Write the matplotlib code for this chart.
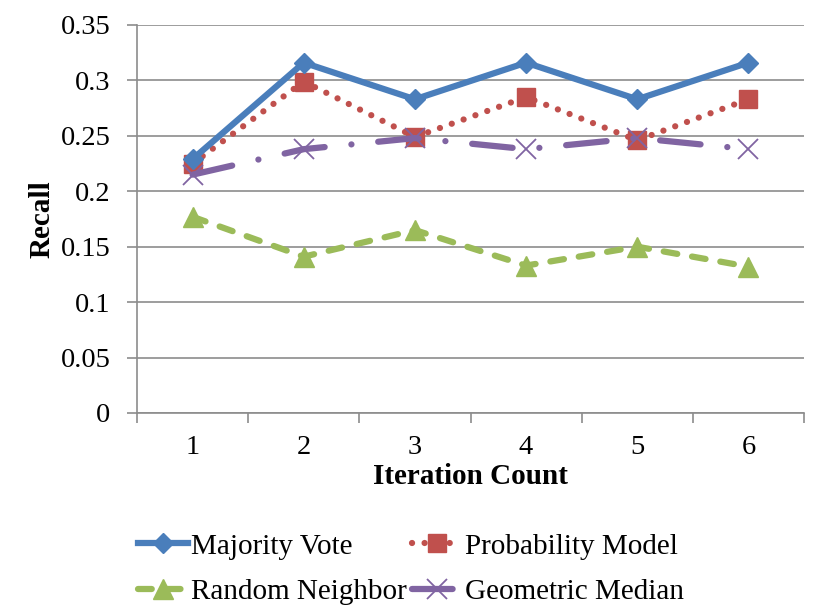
import matplotlib
matplotlib.use("Agg")
import matplotlib.pyplot as plt
from matplotlib.ticker import FixedLocator

plt.rcParams["font.family"] = ["Liberation Serif", "DejaVu Serif"]

iterations = ["1", "2", "3", "4", "5", "6"]
majority_vote = [0.229, 0.316, 0.283, 0.316, 0.283, 0.316]
probability_model = [0.225, 0.299, 0.249, 0.285, 0.246, 0.283]
random_neighbor = [0.177, 0.141, 0.165, 0.133, 0.150, 0.132]
geometric_median = [0.215, 0.238, 0.248, 0.238, 0.248, 0.238]
y_ticks = [0, 0.05, 0.1, 0.15, 0.2, 0.25, 0.3, 0.35]
y_labels = ["0", "0.05", "0.1", "0.15", "0.2", "0.25", "0.3", "0.35"]

fig = plt.figure(figsize=(8.22, 6.16), dpi=100)
ax = fig.add_axes([137 / 822, 1 - 413 / 616, (804 - 137) / 822, (413 - 25) / 616])

x = list(range(1, len(iterations) + 1))

l_mv, = ax.plot(x, majority_vote, color="#4A7EBB", lw=4.5, marker="D", ms=10,
                solid_joinstyle="miter", label="Majority Vote", zorder=4)
l_pm, = ax.plot(x, probability_model, color="#C0504D", lw=4.5, ls=(0, (0.01, 2.0)),
                dash_capstyle="round", marker="s", ms=13.5, label="Probability Model", zorder=3)
l_rn, = ax.plot(x, random_neighbor, color="#9BBB59", lw=4.5, ls=(0, (2.2, 2.4)),
                dash_capstyle="round", marker="^", ms=14, label="Random Neighbor", zorder=3)
l_gm, = ax.plot(x, geometric_median, color="#8064A2", lw=4.5, ls=(0, (6.5, 4.3, 0.01, 4.3)),
                dash_capstyle="round", marker="x", ms=14, mew=1.3, label="Geometric Median", zorder=5)

ax.set_xlim(0.5, 6.5)
ax.set_ylim(0, 0.35)
ax.set_yticks(y_ticks)
ax.set_yticklabels(y_labels)
ax.set_xticks(x)
ax.set_xticklabels(iterations)
ax.xaxis.set_minor_locator(FixedLocator([i + 0.5 for i in range(0, 7)]))

ax.grid(axis="y", color="#8C8C8C", lw=1.2)
ax.set_axisbelow(True)
for side in ["top", "right"]:
    ax.spines[side].set_visible(False)
for side in ["left", "bottom"]:
    ax.spines[side].set_color("#8C8C8C")
    ax.spines[side].set_linewidth(1.2)

ax.tick_params(axis="x", which="major", length=0, labelsize=20.5, pad=15.5)
ax.tick_params(axis="x", which="minor", length=7, width=1.2, color="#8C8C8C", direction="out")
ax.tick_params(axis="y", length=7, width=1.2, color="#8C8C8C", labelsize=20.5, pad=12)

ax.set_xlabel("Iteration Count", fontsize=21, fontweight="bold", labelpad=2.5)
ax.set_ylabel("Recall", fontsize=21, fontweight="bold", labelpad=4)

# legend is filled column-wise, so reorder to get row-major layout
fig.legend([l_mv, l_rn, l_pm, l_gm],
           ["Majority Vote", "Random Neighbor", "Probability Model", "Geometric Median"],
           loc="center", bbox_to_anchor=(411 / 822, 1 - 569 / 616), ncol=2,
           frameon=False, fontsize=21, handlelength=1.7, handletextpad=0.1,
           columnspacing=0.2, labelspacing=0.65, borderpad=0)

fig.savefig("out.png", dpi=100)
